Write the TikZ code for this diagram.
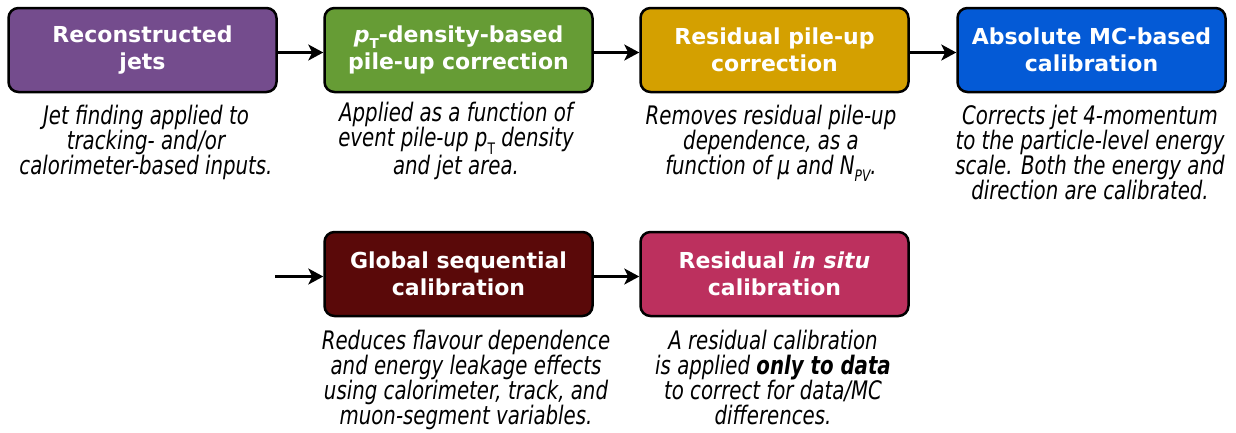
\documentclass[tikz,border=0pt]{standalone}
\usepackage{fontspec}
\setmainfont{DejaVu Sans}
\newfontfamily\descfont{DejaVu Sans}[FakeStretch=0.775]
\usetikzlibrary{arrows.meta,calc}
\definecolor{cpurple}{RGB}{116,76,141}
\definecolor{cgreen}{RGB}{102,156,53}
\definecolor{cgold}{RGB}{212,160,0}
\definecolor{cblue}{RGB}{4,90,214}
\definecolor{cdred}{RGB}{90,9,9}
\definecolor{ccrim}{RGB}{188,48,94}
\newcommand\mysub[1]{\raisebox{-0.28em}{\scalebox{0.62}{#1}}}
\tikzset{
  stepbox/.style={draw=black, line width=2.5pt, rounded corners=10pt,
    minimum width=268pt, minimum height=84pt, inner sep=0pt, align=center,
    text=white, font=\fontsize{22}{27.5}\selectfont\bfseries},
  desc/.style={anchor=base, align=center, inner sep=0pt,
    font=\descfont\itshape\fontsize{25.5}{25}\selectfont},
  arr/.style={line width=3pt, -{Stealth[length=15pt,width=16pt,inset=4pt]}}
}
\begin{document}
\begin{tikzpicture}[x=1pt,y=-1pt]
\useasboundingbox (0,0) rectangle (1236,432);
\node[stepbox, fill=cpurple] (b1) at (142.5,50) {Reconstructed\\jets};
\node[stepbox, fill=cgreen] (b2) at (458.5,50) {\textit{p}\mysub{T}-density-based\\pile-up correction};
\node[stepbox, fill=cgold] (b3) at (774.5,50) {Residual pile-up\\correction};
\node[stepbox, fill=cblue] (b4) at (1091.5,50) {Absolute MC-based\\calibration};
\node[stepbox, fill=cdred] (b5) at (458.5,274) {Global sequential\\calibration};
\node[stepbox, fill=ccrim] (b6) at (774.5,274) {Residual \textit{in situ}\\calibration};
\coordinate (s5) at (275,276.5);
\draw[arr] ($(b1.east)+(0,2.5)$) -- ($(b2.west)+(0,2.5)$);
\draw[arr] ($(b2.east)+(0,2.5)$) -- ($(b3.west)+(0,2.5)$);
\draw[arr] ($(b3.east)+(0,2.5)$) -- ($(b4.west)+(0,2.5)$);
\draw[arr] (s5) -- ($(b5.west)+(0,2.5)$);
\draw[arr] ($(b5.east)+(0,2.5)$) -- ($(b6.west)+(0,2.5)$);
\node[desc] (d1) at (146,174.5) {Jet finding applied to\\tracking- and/or\\calorimeter-based inputs.};
\node[desc] (d2) at (456,174.5) {Applied as a function of\\event pile-up p\mysub{\upshape T} density\\and jet area.};
\node[desc] (d3) at (771,174.5) {Removes residual pile-up\\dependence, as a\\function of μ and N\mysub{PV}.};
\node[desc] (d4) at (1090,199.5) {Corrects jet 4-momentum\\to the particle-level energy\\scale. Both the energy and\\direction are calibrated.};
\node[desc] (d5) at (466,424) {Reduces flavour dependence\\and energy leakage effects\\using calorimeter, track, and\\muon-segment variables.};
\node[desc] (d6) at (773,424) {A residual calibration\\is applied \textbf{only to data}\\to correct for data/MC\\differences.};
\end{tikzpicture}
\end{document}
